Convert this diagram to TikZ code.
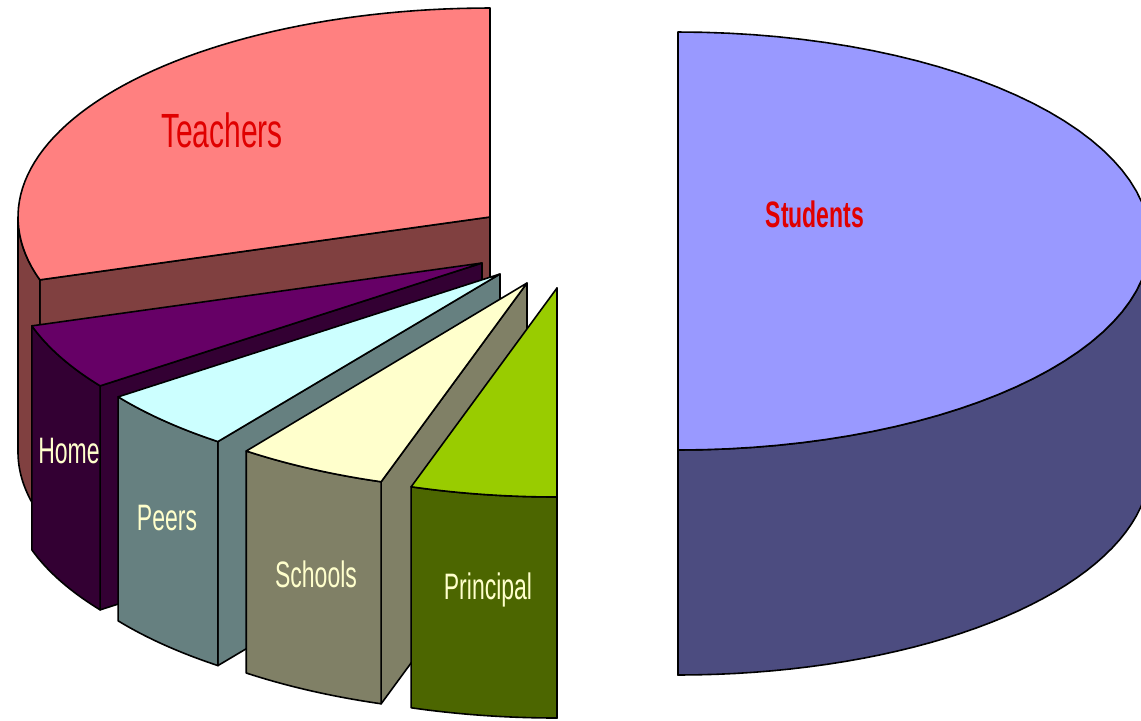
\documentclass[tikz,border=0pt]{standalone}
\usepackage{fontspec}
\setmainfont{Liberation Sans}
\definecolor{tchtop}{HTML}{FF8080}
\definecolor{tchside}{HTML}{804040}
\definecolor{hometop}{HTML}{660066}
\definecolor{homeside}{HTML}{330033}
\definecolor{peertop}{HTML}{CCFFFF}
\definecolor{peerside}{HTML}{668080}
\definecolor{schtop}{HTML}{FFFFCC}
\definecolor{schside}{HTML}{808066}
\definecolor{pritop}{HTML}{99CC00}
\definecolor{priside}{HTML}{4C6600}
\definecolor{stutop}{HTML}{9999FF}
\definecolor{stuside}{HTML}{4C4C80}
\definecolor{lblred}{HTML}{E00000}
\definecolor{lblcream}{HTML}{FFFFCC}
% #1 cx, #2 cy, #3 height, #4 back angle, #5 front angle, #6 start of visible outer face, #7 top colour, #8 side colour
\newcommand\mkslice[8]{%
  \filldraw[face,fill=#8] ({#1},{#2}) -- ({#1+472*cos(#5)},{#2+209*sin(#5)}) -- ({#1+472*cos(#5)},{#2+#3+209*sin(#5)}) -- ({#1},{#2+#3}) -- cycle;
  \filldraw[face,fill=#8] plot[domain=#6:#5,samples=40] ({#1+472*cos(\x)},{#2+209*sin(\x)}) -- plot[domain=#5:#6,samples=40] ({#1+472*cos(\x)},{#2+#3+209*sin(\x)}) -- cycle;
  \filldraw[face,fill=#7] ({#1},{#2}) -- plot[domain=#4:#5,samples=60] ({#1+472*cos(\x)},{#2+209*sin(\x)}) -- cycle;
}
\begin{document}
\begin{tikzpicture}[x=0.5pt,y=-0.5pt,
  face/.style={draw=black,line width=0.8pt,line join=round},
  lbl/.style={inner sep=0pt},
  frontlbl/.style={lbl,text=lblcream,font=\fontsize{11.5}{13}\selectfont}]
\useasboundingbox (0,0) rectangle (1141,720);
\clip (0,0) rectangle (1141,720);
% Teachers
\mkslice{490}{217}{235}{270}{162.5}{180}{tchtop}{tchside}
% Home
\mkslice{482}{263}{224}{162.5}{144}{162.5}{hometop}{homeside}
% Peers
\mkslice{500}{274}{224}{144}{126.7}{144}{peertop}{peerside}
% Schools
\mkslice{527}{283}{222}{126.5}{108}{126.5}{schtop}{schside}
% Principal
\mkslice{557}{288}{221}{108}{90}{108}{pritop}{priside}
% Students
\mkslice{678}{241}{225}{-90}{90}{0}{stutop}{stuside}
% labels
\node[lbl,text=lblred,font=\fontsize{15}{18}\selectfont] (teachers) at (222,130) {\scalebox{1}[1.6]{Teachers}};
\node[lbl,text=lblred,font=\fontsize{11.5}{13}\selectfont\bfseries] (students) at (815,214) {\scalebox{1}[1.6]{Students}};
\node[frontlbl] (home) at (69,451) {\scalebox{1}[1.6]{Home}};
\node[frontlbl] (peers) at (167,518) {\scalebox{1}[1.6]{Peers}};
\node[frontlbl] (schools) at (316,574) {\scalebox{1}[1.6]{Schools}};
\node[frontlbl] (principal) at (488,590) {\scalebox{1}[1.6]{Principal}};
\end{tikzpicture}
\end{document}
